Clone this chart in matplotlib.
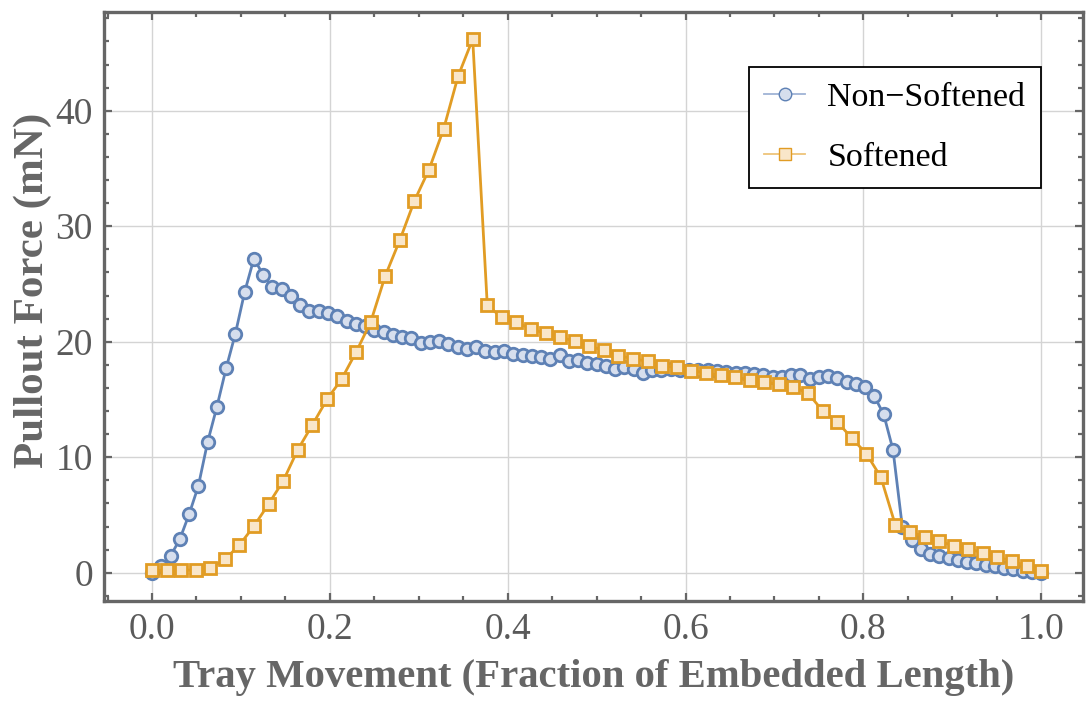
import matplotlib
matplotlib.use("Agg")
import matplotlib.pyplot as plt
from matplotlib.lines import Line2D
from matplotlib.ticker import MultipleLocator

# ---- data ----
non_softened_x = [i / 96 for i in range(97)]
non_softened_y = [
    0.0, 0.55, 1.45, 2.9, 5.05, 7.5, 11.3, 14.35, 17.7, 20.7,
    24.3, 27.2, 25.8, 24.7, 24.6, 24.0, 23.2, 22.7, 22.7, 22.5,
    22.2, 21.8, 21.5, 21.4, 21.0, 20.8, 20.6, 20.4, 20.3, 19.9,
    20.0, 20.1, 19.8, 19.5, 19.4, 19.5, 19.2, 19.1, 19.2, 18.9,
    18.87, 18.76, 18.7, 18.5, 18.82, 18.3, 18.41, 18.2, 18.1, 17.88,
    17.68, 17.8, 17.62, 17.32, 17.58, 17.55, 17.6, 17.55, 17.55, 17.55,
    17.55, 17.5, 17.4, 17.32, 17.32, 17.2, 17.08, 16.95, 16.98, 17.08,
    17.1, 16.79, 16.97, 17.0, 16.82, 16.5, 16.33, 16.04, 15.26, 13.7,
    10.64, 4.0, 2.8, 2.08, 1.59, 1.45, 1.24, 1.1, 0.95, 0.87,
    0.69, 0.58, 0.43, 0.29, 0.14, 0.02, 0.0,
]
softened_x = [i / 61 for i in range(62)]
softened_y = [
    0.2, 0.2, 0.2, 0.25, 0.4, 1.15, 2.4, 4.05, 5.95, 7.95,
    10.65, 12.8, 15.0, 16.75, 19.1, 21.7, 25.7, 28.8, 32.2, 34.9,
    38.4, 43.0, 46.2, 23.15, 22.1, 21.73, 21.07, 20.75, 20.38, 20.06,
    19.62, 19.25, 18.79, 18.53, 18.3, 17.9, 17.78, 17.5, 17.3, 17.08,
    16.94, 16.68, 16.53, 16.3, 16.07, 15.55, 14.02, 13.09, 11.65, 10.32,
    8.27, 4.1, 3.55, 3.12, 2.72, 2.34, 2.05, 1.73, 1.36, 1.01,
    0.58, 0.17,
]
series_labels = ["Non\u2212Softened", "Softened"]
x_label = "Tray Movement (Fraction of Embedded Length)"
y_label = "Pullout Force (mN)"

# ---- style ----
plt.rcParams['font.family'] = ['Liberation Serif', 'DejaVu Serif']
blue = '#5E81B5'
blue_face = '#d6deed'
orange = '#E19C24'
orange_face = '#f9e6c9'
frame_col = '#666666'

fig = plt.figure(figsize=(10.86, 7.07), dpi=100)
ax = fig.add_axes([104 / 1086, 1 - 601 / 707, (1083 - 104) / 1086, (601 - 12) / 707])

ax.plot(non_softened_x, non_softened_y, color=blue, lw=2.0, marker='o', ms=9,
        mfc=blue_face, mec=blue, mew=2.0, zorder=3)
ax.plot(softened_x, softened_y, color=orange, lw=2.0, marker='s', ms=8.3,
        mfc=orange_face, mec=orange, mew=2.0, zorder=4)

ax.set_xlim(-0.054, 1.047)
ax.set_ylim(-2.45, 48.55)

ax.xaxis.set_major_locator(MultipleLocator(0.2))
ax.xaxis.set_minor_locator(MultipleLocator(0.05))
ax.yaxis.set_major_locator(MultipleLocator(10))
ax.yaxis.set_minor_locator(MultipleLocator(2))
ax.set_xticks([0.0, 0.2, 0.4, 0.6, 0.8, 1.0])
ax.set_xticklabels(["0.0", "0.2", "0.4", "0.6", "0.8", "1.0"])
ax.set_yticks([0, 10, 20, 30, 40])
ax.set_yticklabels(["0", "10", "20", "30", "40"])

ax.grid(True, which='major', color='#d4d4d4', lw=1.0, zorder=0)
ax.set_axisbelow(True)

for s in ax.spines.values():
    s.set_color(frame_col)
    s.set_linewidth(2.4)

ax.tick_params(which='both', direction='in', top=True, right=True,
               color=frame_col, width=1.6, labelcolor='#5a5a5a', labelsize=27)
ax.tick_params(which='major', length=6, pad=8)
ax.tick_params(which='minor', length=3.5)

ax.set_xlabel(x_label, fontsize=29.3, fontweight='bold', color='#666666', labelpad=9)
ax.set_ylabel(y_label, fontsize=31, fontweight='bold', color='#666666')
ax.yaxis.set_label_coords(-0.053, (601 - 290) / 589)

handles = [
    Line2D([], [], color='#9fb3d6', lw=1.3, marker='o', ms=9, mfc=blue_face, mec=blue, mew=1.0),
    Line2D([], [], color='#eec47a', lw=1.3, marker='s', ms=8.5, mfc=orange_face, mec=orange, mew=1.0),
]
leg = ax.legend(handles, series_labels, loc='upper left',
                bbox_to_anchor=((749 - 104) / (1083 - 104), 1 - (67 - 12) / (601 - 12)),
                fontsize=24.5, frameon=True, fancybox=False, edgecolor='black',
                framealpha=1, borderpad=0.45, labelspacing=0.85, handlelength=1.2,
                handletextpad=0.65, borderaxespad=0)
leg.get_frame().set_linewidth(1.3)

fig.savefig("out.png", dpi=100)
